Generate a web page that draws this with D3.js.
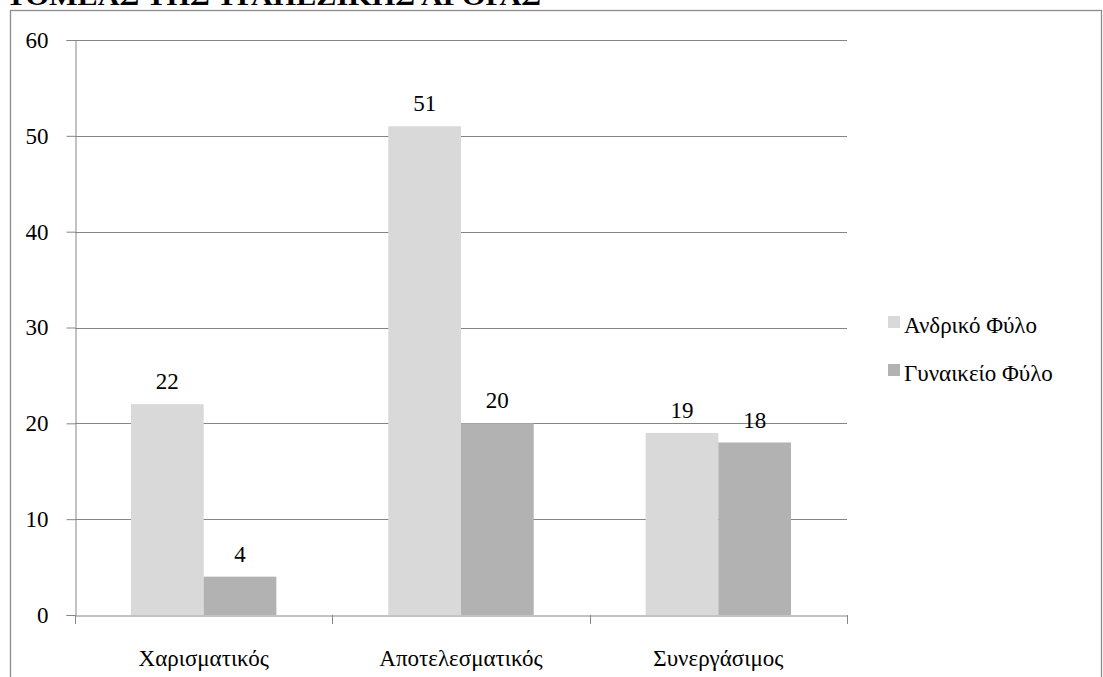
<!DOCTYPE html>
<html><head><meta charset="utf-8">
<script src="https://cdn.jsdelivr.net/npm/d3@7"></script>
<style>body{margin:0;background:#fff;} svg{display:block;}</style>
</head><body><svg id="c" width="1103" height="677"></svg>
<script>
const title = "ΤΟΜΕΑΣ ΤΗΣ ΤΡΑΠΕΖΙΚΗΣ ΑΓΟΡΑΣ";
const categories = ["Χαρισματικός", "Αποτελεσματικός", "Συνεργάσιμος"];
const seriesNames = ["Ανδρικό Φύλο", "Γυναικείο Φύλο"];
const maleValues = [22, 51, 19];
const femaleValues = [4, 20, 18];
const yTicks = [0, 10, 20, 30, 40, 50, 60];
const colors = ["#d9d9d9", "#b2b2b2"];

(function () {
const FONT = '"Liberation Serif", "Times New Roman", serif';
const FS = 23;
const svg = d3.select("#c");
const pLeft = 75, pRight = 847, pTop = 40, pBottom = 615;

// outer frame
svg.append("rect").attr("x", 10.5).attr("y", 10.5).attr("width", 1091).attr("height", 700)
  .attr("fill", "none").attr("stroke", "#8c8c8c").attr("stroke-width", 1.3);
// clipped title
svg.append("text").attr("x", 6).attr("y", 5).style("font-family", FONT).style("font-size", "25px")
  .style("font-weight", "bold").attr("textLength", 535).attr("lengthAdjust", "spacingAndGlyphs")
  .attr("fill", "#000").text(title);

const x0 = d3.scaleBand().domain(categories).range([pLeft, pRight]).paddingInner(0).paddingOuter(0);
const groupW = x0.bandwidth() * 0.565;
const x1 = d3.scaleBand().domain(seriesNames).range([0, groupW]).padding(0);
const y = d3.scaleLinear().domain([0, 60]).range([pBottom, pTop]);

// gridlines
svg.append("g").selectAll("line").data(yTicks.filter(d => d > 0)).join("line")
  .attr("x1", pLeft).attr("x2", pRight).attr("y1", d => Math.round(y(d)) + 0.5).attr("y2", d => Math.round(y(d)) + 0.5)
  .attr("stroke", "#868686").attr("stroke-width", 1);

// y axis
const yAxis = svg.append("g").attr("transform", `translate(${pLeft + 0.5},0)`)
  .call(d3.axisLeft(y).tickValues(yTicks).tickSize(9).tickPadding(18).tickFormat(d3.format("d")));
yAxis.attr("font-family", null).attr("font-size", null);
yAxis.select(".domain").attr("stroke", "#868686");
yAxis.selectAll(".tick line").attr("stroke", "#868686");
yAxis.selectAll("text").style("font-size", FS + "px").attr("fill", "#000").style("font-family", FONT);

// bars
const data = categories.map((c, i) => ({ c, vals: [maleValues[i], femaleValues[i]] }));
const groups = svg.append("g").selectAll("g").data(data).join("g")
  .attr("transform", d => `translate(${x0(d.c) + (x0.bandwidth() - groupW) / 2},0)`);
groups.selectAll("rect").data(d => d.vals.map((v, j) => ({ v, s: seriesNames[j], j }))).join("rect")
  .attr("x", d => x1(d.s)).attr("width", x1.bandwidth())
  .attr("y", d => y(d.v)).attr("height", d => y(0) - y(d.v))
  .attr("fill", d => colors[d.j]);
groups.selectAll("text").data(d => d.vals.map((v, j) => ({ v, s: seriesNames[j], j }))).join("text")
  .attr("x", d => x1(d.s) + x1.bandwidth() / 2).attr("y", d => y(d.v) - 15)
  .attr("text-anchor", "middle").style("font-size", FS + "px").style("font-family", FONT)
  .attr("fill", "#000").text(d => d.v);

// x axis
const xAxis = svg.append("g").attr("transform", `translate(0,${pBottom + 0.5})`)
  .call(d3.axisBottom(x0).tickSize(0));
xAxis.attr("font-family", null).attr("font-size", null);
xAxis.select(".domain").attr("stroke", "#868686");
xAxis.selectAll("text").style("font-size", FS + "px").attr("fill", "#000").style("font-family", FONT)
  .attr("y", 50).attr("dy", null);
const edges = categories.map(c => x0(c)).concat([pRight]);
svg.append("g").selectAll("line").data(edges).join("line")
  .attr("x1", d => Math.round(d) + 0.5).attr("x2", d => Math.round(d) + 0.5)
  .attr("y1", pBottom).attr("y2", pBottom + 9).attr("stroke", "#868686");

// legend
const lg = svg.append("g").attr("transform", "translate(888,316)");
seriesNames.forEach((s, i) => {
  const g = lg.append("g").attr("transform", `translate(0,${i * 48})`);
  g.append("rect").attr("width", 12).attr("height", 12).attr("fill", colors[i]);
  g.append("text").attr("x", 16).attr("y", 17).style("font-size", FS + "px").style("font-family", FONT)
    .attr("fill", "#000").text(s);
});
})();
</script></body></html>
